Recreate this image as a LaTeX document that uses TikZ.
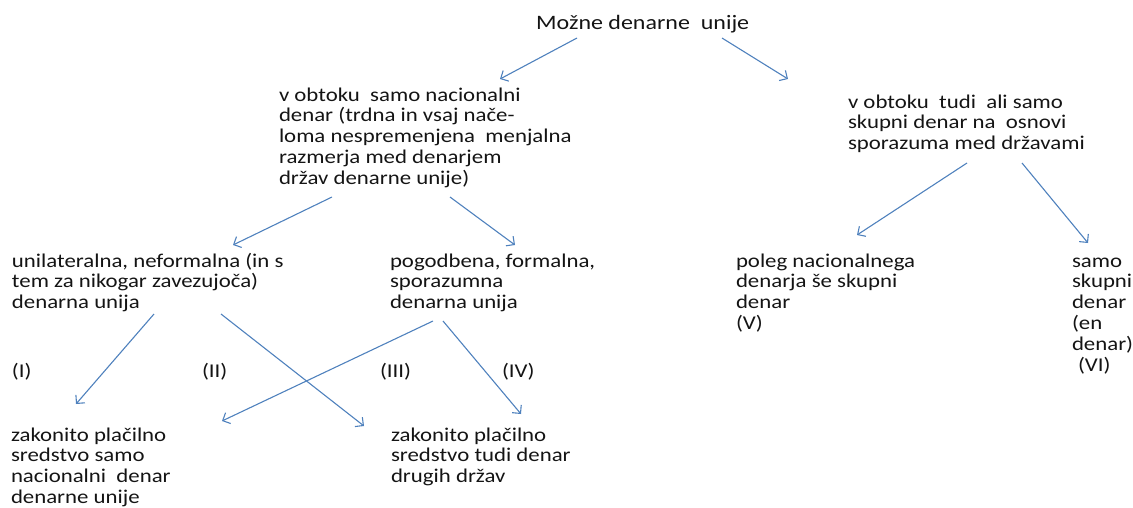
\documentclass[tikz,border=0pt]{standalone}
\usepackage{fontspec}
\setmainfont{Carlito}[FakeStretch=1.17]
\usetikzlibrary{arrows.meta}
\definecolor{arrowblue}{RGB}{79,129,189}
\definecolor{txt}{RGB}{20,20,20}
\newcommand\mlines[1]{\begin{tabular}[t]{@{}l@{}}#1\end{tabular}}
\tikzset{
  lbl/.style={anchor=base west, inner sep=0pt, outer sep=0pt, text=txt,
    font=\fontsize{19.5}{20.9}\selectfont},
  titlelbl/.style={anchor=base west, inner sep=0pt, text=txt,
    font=\fontsize{20.5}{24}\selectfont},
  conn/.style={draw=arrowblue, line width=1.1pt, -{Straight Barb[length=6pt,width=12pt]}}
}
\begin{document}
\begin{tikzpicture}[x=1pt,y=-1pt]
\useasboundingbox (0,0) rectangle (1133,507);
% text nodes
\node[titlelbl] (root) at (536,29) {Možne denarne\ \ unije};
\node[lbl] (nat) at (279,101) {\mlines{v obtoku\ \ samo nacionalni\\denar (trdna in vsaj nače-\\loma nespremenjena\ \ menjalna\\razmerja med denarjem\\držav denarne unije)}};
\node[lbl] (skup) at (848,108) {\mlines{v obtoku\ \ tudi\ \ ali samo\\skupni denar na\ \ osnovi\\sporazuma med državami}};
\node[lbl] (unil) at (12,267) {\mlines{unilateralna, neformalna (in s\\tem za nikogar zavezujoča)\\denarna unija}};
\node[lbl] (pog) at (390,267) {\mlines{pogodbena, formalna,\\sporazumna\\denarna unija}};
\node[lbl] (poleg) at (736,267) {\mlines{poleg nacionalnega\\denarja še skupni\\denar\\(V)}};
\node[lbl] (samo) at (1072,267) {\mlines{samo\\skupni\\denar\\(en\\denar)\\\hspace{6pt}(VI)}};
\node[lbl] (l1) at (12,377) {(I)};
\node[lbl] (l2) at (202,377) {(II)};
\node[lbl] (l3) at (380,377) {(III)};
\node[lbl] (l4) at (502,377) {(IV)};
\node[lbl] (zak1) at (11,441) {\mlines{zakonito plačilno\\sredstvo samo\\nacionalni\ \ denar\\denarne unije}};
\node[lbl] (zak2) at (391,441) {\mlines{zakonito plačilno\\sredstvo tudi denar\\drugih držav}};
% connector end points
\coordinate (a1s) at (577,38);  \coordinate (a1e) at (500,79);
\coordinate (a2s) at (722,38);  \coordinate (a2e) at (788,79);
\coordinate (a3s) at (332,197); \coordinate (a3e) at (233,245);
\coordinate (a4s) at (450,197); \coordinate (a4e) at (515,245);
\coordinate (a5s) at (967,163); \coordinate (a5e) at (857,235);
\coordinate (a6s) at (1022,163);\coordinate (a6e) at (1088,243);
\coordinate (a7s) at (154,314); \coordinate (a7e) at (76,404);
\coordinate (a8s) at (221,314); \coordinate (a8e) at (364,426);
\coordinate (a9s) at (433,321); \coordinate (a9e) at (222,421);
\coordinate (a10s) at (443,321);\coordinate (a10e) at (521,414);
\draw[conn] (a1s) -- (a1e);
\draw[conn] (a2s) -- (a2e);
\draw[conn] (a3s) -- (a3e);
\draw[conn] (a4s) -- (a4e);
\draw[conn] (a5s) -- (a5e);
\draw[conn] (a6s) -- (a6e);
\draw[conn] (a7s) -- (a7e);
\draw[conn] (a8s) -- (a8e);
\draw[conn] (a9s) -- (a9e);
\draw[conn] (a10s) -- (a10e);
\end{tikzpicture}
\end{document}
